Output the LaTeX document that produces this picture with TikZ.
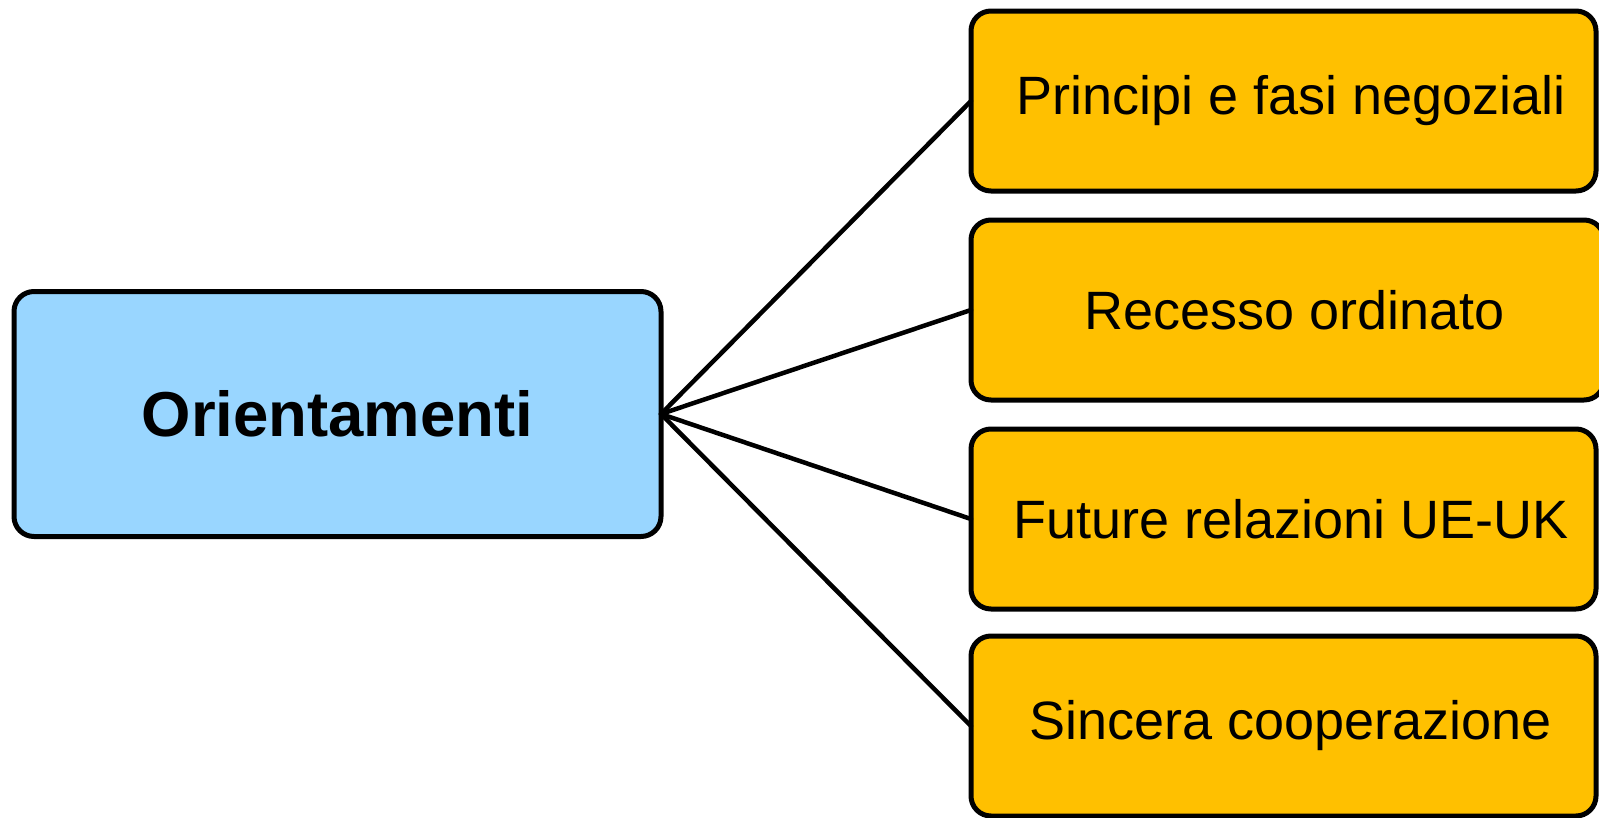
\documentclass[tikz,border=0pt]{standalone}
\usepackage{fontspec}
\setmainfont{Liberation Sans}
\definecolor{rootblue}{RGB}{153,214,255}
\definecolor{leafgold}{RGB}{255,192,0}
% leaf labels sit a little right of the box centre
\newcommand{\leaftext}[1]{\hspace*{15pt}#1}
\begin{document}
\begin{tikzpicture}[x=1pt,y=-1pt,
  box/.style={draw=black, line width=5pt, rounded corners=20pt, inner sep=0pt, outer sep=0pt, align=center},
  rootbox/.style={box, fill=rootblue, minimum width=647pt, minimum height=245pt,
    font=\fontsize{63.5}{70}\selectfont\bfseries},
  leafbox/.style={box, fill=leafgold, minimum width=625pt, minimum height=180pt,
    font=\fontsize{54}{60}\selectfont},
  link/.style={draw=black, line width=4.5pt, line cap=round}]
\useasboundingbox (0,0) rectangle (1599,817);
\node[rootbox] (root) at (337.5,414) {Orientamenti};
\node[leafbox] (a) at (1283.5,101) {\leaftext{Principi e fasi negoziali}};
\node[leafbox, minimum width=633pt] (b) at (1287.5,310) {\leaftext{Recesso ordinato}};
\node[leafbox] (c) at (1283.5,519) {\leaftext{Future relazioni UE-UK}};
\node[leafbox] (d) at (1283.5,726) {\leaftext{Sincera cooperazione}};
\foreach \t in {a,b,c,d}
  \draw[link] (root.east) -- (\t.west);
\end{tikzpicture}
\end{document}
